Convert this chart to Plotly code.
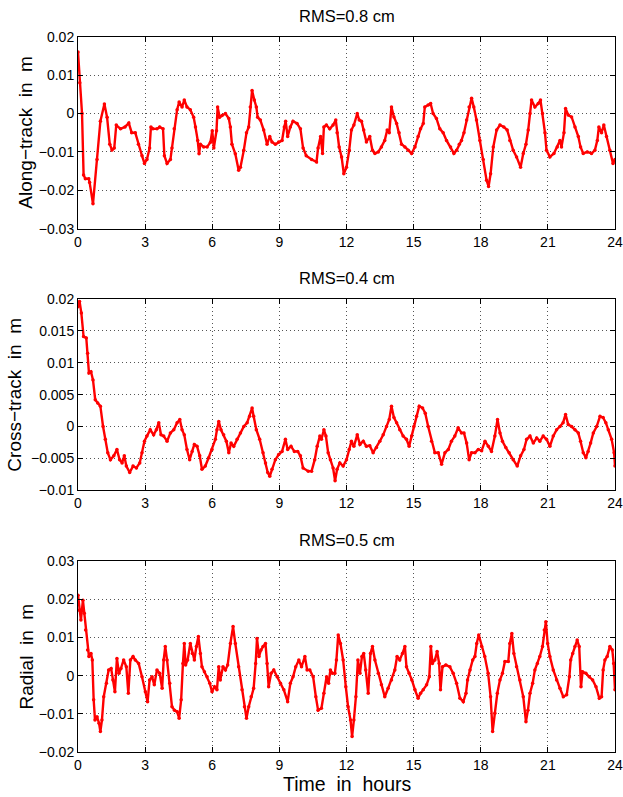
import plotly.graph_objects as go
from plotly.subplots import make_subplots

# time axis ticks (hours)
hour_ticks = [0, 3, 6, 9, 12, 15, 18, 21, 24]

# along-track residuals (m)
along_h = [0, 0.08, 0.18, 0.25, 0.33, 0.48, 0.52, 0.67, 0.85, 1.0,
           1.18, 1.3, 1.42, 1.52, 1.62, 1.71, 1.9, 2.1, 2.27, 2.4,
           2.56, 2.7, 2.86, 2.97, 3.08, 3.2, 3.26, 3.35, 3.53, 3.65,
           3.8, 3.86, 3.98, 4.13, 4.2, 4.3, 4.43, 4.52, 4.65, 4.75,
           4.87, 5.02, 5.17, 5.25, 5.35, 5.41, 5.47, 5.62, 5.77, 5.92,
           6.0, 6.07, 6.19, 6.24, 6.33, 6.44, 6.59, 6.74, 6.81, 6.88,
           7.03, 7.18, 7.26, 7.41, 7.53, 7.63, 7.7, 7.78, 7.88, 7.97,
           8.03, 8.15, 8.3, 8.45, 8.57, 8.67, 8.82, 8.97, 9.12, 9.22,
           9.28, 9.37, 9.49, 9.61, 9.79, 9.94, 10.06, 10.2, 10.44, 10.66,
           10.73, 10.84, 10.93, 10.99, 11.1, 11.25, 11.4, 11.52, 11.58, 11.67,
           11.78, 11.88, 12.0, 12.12, 12.22, 12.33, 12.48, 12.57, 12.67, 12.77,
           12.89, 13.04, 13.16, 13.27, 13.42, 13.56, 13.71, 13.82, 13.91, 14.01,
           14.12, 14.24, 14.35, 14.46, 14.61, 14.76, 14.91, 15.06, 15.2, 15.31,
           15.43, 15.5, 15.65, 15.76, 15.87, 16.02, 16.17, 16.32, 16.47, 16.65,
           16.8, 16.92, 17.04, 17.14, 17.25, 17.37, 17.48, 17.59, 17.69, 17.81,
           17.96, 18.11, 18.26, 18.35, 18.44, 18.56, 18.71, 18.86, 19.03, 19.18,
           19.3, 19.45, 19.6, 19.78, 19.9, 20.02, 20.12, 20.2, 20.27, 20.42,
           20.57, 20.67, 20.76, 20.87, 20.94, 21.09, 21.27, 21.42, 21.54, 21.61,
           21.72, 21.79, 21.91, 22.06, 22.21, 22.36, 22.46, 22.58, 22.76, 22.95,
           23.1, 23.21, 23.28, 23.4, 23.5, 23.62, 23.77, 23.91, 24.0]
along_v = [0.016, 0.008, 0.0, -0.016, -0.017, -0.017, -0.018, -0.0235, -0.012, -0.002,
           0.0025, -0.001, -0.008, -0.0095, -0.009, -0.003, -0.004, -0.0035, -0.0025, -0.005,
           -0.005, -0.008, -0.011, -0.013, -0.012, -0.009, -0.0035, -0.004, -0.004, -0.0035,
           -0.004, -0.011, -0.013, -0.012, -0.009, -0.004, 0.001, 0.003, 0.0017, 0.0035,
           0.0017, 0.001, -0.001, -0.0035, -0.007, -0.0105, -0.008, -0.0087, -0.0087, -0.0075,
           -0.0045, -0.009, -0.0045, 0.0017, -0.001, -0.0005, 0.0, -0.0013, -0.0035, -0.008,
           -0.0105, -0.0148, -0.014, -0.0096, -0.005, -0.0035, 0.0017, 0.006, 0.0035, 0.0017,
           -0.001, -0.0017, -0.0043, -0.008, -0.006, -0.0074, -0.008, -0.0074, -0.007, -0.0035,
           -0.002, -0.006, -0.0035, -0.002, -0.0026, -0.004, -0.009, -0.011, -0.012, -0.0126,
           -0.009, -0.006, -0.0104, -0.0035, -0.003, -0.004, -0.003, -0.0017, -0.005, -0.0087,
           -0.0113, -0.0157, -0.014, -0.0096, -0.0043, -0.003, 0.0, -0.0017, -0.002, -0.0043,
           -0.0074, -0.006, -0.0096, -0.0104, -0.01, -0.0087, -0.007, -0.0043, -0.005, 0.0017,
           -0.0009, -0.0026, -0.005, -0.008, -0.0087, -0.0096, -0.0104, -0.0087, -0.006, -0.004,
           -0.0026, 0.0017, 0.0022, 0.0026, 0.0, -0.0013, -0.004, -0.005, -0.007, -0.0087,
           -0.0104, -0.0096, -0.008, -0.007, -0.005, -0.0017, 0.0017, 0.004, 0.0017, -0.0017,
           -0.007, -0.012, -0.0174, -0.019, -0.0157, -0.0087, -0.0043, -0.003, -0.0035, -0.0043,
           -0.007, -0.0096, -0.0113, -0.014, -0.0104, -0.008, -0.0043, 0.0, 0.0035, 0.0017,
           0.0026, 0.0035, 0.0, -0.005, -0.0096, -0.0113, -0.0104, -0.0087, -0.007, -0.0087,
           -0.005, 0.0013, -0.0004, -0.0009, -0.0035, -0.006, -0.0087, -0.0104, -0.01, -0.0104,
           -0.0096, -0.007, -0.0035, -0.005, -0.003, -0.006, -0.0096, -0.013, -0.012]

# cross-track residuals (m)
cross_h = [0, 0.07, 0.15, 0.25, 0.37, 0.43, 0.49, 0.58, 0.67, 0.77,
           0.88, 1.0, 1.12, 1.22, 1.33, 1.45, 1.6, 1.74, 1.86, 1.97,
           2.07, 2.16, 2.31, 2.46, 2.61, 2.76, 2.86, 2.97, 3.08, 3.23,
           3.38, 3.5, 3.61, 3.71, 3.83, 3.98, 4.13, 4.28, 4.43, 4.55,
           4.65, 4.75, 4.87, 4.99, 5.1, 5.2, 5.32, 5.44, 5.54, 5.69,
           5.84, 5.99, 6.14, 6.21, 6.29, 6.39, 6.51, 6.63, 6.74, 6.84,
           6.96, 7.11, 7.26, 7.41, 7.56, 7.67, 7.78, 7.85, 7.97, 8.12,
           8.27, 8.38, 8.48, 8.57, 8.67, 8.82, 8.97, 9.12, 9.27, 9.37,
           9.52, 9.67, 9.82, 9.94, 10.06, 10.29, 10.44, 10.58, 10.69, 10.81,
           10.88, 10.99, 11.08, 11.18, 11.28, 11.4, 11.49, 11.58, 11.7, 11.85,
           12.0, 12.12, 12.22, 12.33, 12.48, 12.6, 12.75, 12.89, 13.04, 13.19,
           13.34, 13.49, 13.64, 13.79, 13.91, 14.01, 14.12, 14.24, 14.38, 14.53,
           14.68, 14.8, 14.91, 15.01, 15.13, 15.25, 15.4, 15.52, 15.65, 15.8,
           15.95, 16.1, 16.25, 16.4, 16.55, 16.69, 16.84, 16.99, 17.14, 17.25,
           17.37, 17.48, 17.59, 17.74, 17.89, 18.04, 18.19, 18.34, 18.48, 18.63,
           18.75, 18.86, 18.97, 19.12, 19.27, 19.45, 19.63, 19.78, 19.93, 20.05,
           20.2, 20.35, 20.5, 20.64, 20.79, 20.94, 21.09, 21.24, 21.39, 21.54,
           21.68, 21.79, 21.91, 22.06, 22.21, 22.36, 22.46, 22.58, 22.7, 22.8,
           22.91, 23.03, 23.18, 23.33, 23.47, 23.59, 23.7, 23.85, 23.96, 24.0]
cross_v = [0.0188, 0.0196, 0.0178, 0.0141, 0.0139, 0.0115, 0.0084, 0.0086, 0.0073, 0.0042,
           0.0037, 0.0032, 0.0, -0.002, -0.0041, -0.0052, -0.0046, -0.0036, -0.0052, -0.0057,
           -0.0046, -0.0062, -0.0072, -0.0062, -0.0065, -0.0057, -0.0041, -0.0023, -0.0015, -0.0005,
           -0.0013, -0.0005, 0.0006, -0.0013, -0.0015, -0.0023, -0.001, -0.0005, 0.0006, 0.0011,
           -0.0005, -0.0013, -0.0036, -0.0052, -0.0039, -0.0028, -0.0031, -0.0046, -0.0067, -0.0062,
           -0.0049, -0.0036, -0.002, -0.0005, 0.0008, -0.0005, -0.0013, -0.0023, -0.0041, -0.0026,
           -0.0031, -0.002, -0.001, 0.0, 0.0006, 0.0016, 0.0029, 0.0016, -0.0005, -0.002,
           -0.0041, -0.0057, -0.0072, -0.0078, -0.0067, -0.0052, -0.0044, -0.0039, -0.002, -0.0036,
           -0.0031, -0.0039, -0.0039, -0.0046, -0.0065, -0.007, -0.007, -0.0052, -0.0031, -0.0015,
           -0.002, -0.0005, -0.0015, -0.0041, -0.0052, -0.0065, -0.0085, -0.0067, -0.0057, -0.0062,
           -0.0052, -0.0036, -0.0023, -0.0031, -0.0013, -0.0028, -0.0023, -0.0031, -0.003, -0.0041,
           -0.0033, -0.0023, -0.0013, 0.0, 0.0011, 0.0032, 0.0014, 0.0006, -0.0005, -0.0015,
           -0.002, -0.0031, -0.0015, 0.0, 0.0016, 0.0032, 0.0029, 0.0021, 0.0, -0.0023,
           -0.0041, -0.0041, -0.0059, -0.0041, -0.0036, -0.0023, -0.0015, -0.0002, -0.001, -0.001,
           -0.0026, -0.0052, -0.0041, -0.0041, -0.0036, -0.0038, -0.0023, -0.0031, -0.0039, -0.0015,
           0.0011, -0.001, -0.0023, -0.0033, -0.0041, -0.0052, -0.0062, -0.0046, -0.0036, -0.002,
           -0.0015, -0.0026, -0.0018, -0.0023, -0.0015, -0.002, -0.0031, -0.0015, -0.0005, 0.0,
           0.0006, 0.0019, 0.0003, 0.0, -0.0005, -0.001, -0.0023, -0.0041, -0.0049, -0.0039,
           -0.0026, -0.001, 0.0, 0.0016, 0.0014, 0.0006, -0.0005, -0.002, -0.0041, -0.0062]

# radial residuals (m)
radial_h = [0, 0.06, 0.13, 0.22, 0.28, 0.34, 0.43, 0.49, 0.58, 0.64,
            0.7, 0.76, 0.85, 0.94, 1.0, 1.07, 1.15, 1.27, 1.37, 1.48,
            1.56, 1.65, 1.74, 1.83, 1.92, 2.04, 2.16, 2.25, 2.34, 2.46,
            2.56, 2.71, 2.86, 3.01, 3.11, 3.2, 3.31, 3.41, 3.53, 3.65,
            3.76, 3.83, 3.9, 3.98, 4.1, 4.2, 4.31, 4.43, 4.52, 4.61,
            4.69, 4.75, 4.81, 4.9, 5.02, 5.11, 5.2, 5.29, 5.38, 5.47,
            5.54, 5.65, 5.77, 5.89, 5.99, 6.1, 6.21, 6.29, 6.36, 6.48,
            6.59, 6.69, 6.81, 6.93, 7.03, 7.18, 7.33, 7.44, 7.53, 7.63,
            7.74, 7.85, 7.94, 8.0, 8.09, 8.18, 8.27, 8.38, 8.45, 8.52,
            8.63, 8.75, 8.9, 9.05, 9.2, 9.37, 9.49, 9.61, 9.73, 9.87,
            9.99, 10.14, 10.24, 10.36, 10.51, 10.63, 10.73, 10.88, 10.99, 11.11,
            11.2, 11.28, 11.37, 11.48, 11.55, 11.63, 11.73, 11.85, 11.97, 12.07,
            12.18, 12.25, 12.33, 12.42, 12.51, 12.6, 12.69, 12.77, 12.86, 12.97,
            13.07, 13.16, 13.27, 13.42, 13.56, 13.71, 13.86, 14.01, 14.16, 14.26,
            14.38, 14.5, 14.61, 14.68, 14.8, 14.92, 15.06, 15.2, 15.31, 15.43,
            15.58, 15.7, 15.77, 15.84, 15.95, 16.05, 16.14, 16.2, 16.29, 16.44,
            16.62, 16.77, 16.92, 17.07, 17.22, 17.34, 17.41, 17.52, 17.64, 17.74,
            17.82, 17.91, 18.04, 18.18, 18.33, 18.44, 18.53, 18.63, 18.74, 18.86,
            18.97, 19.08, 19.23, 19.3, 19.39, 19.48, 19.6, 19.75, 19.9, 20.02,
            20.11, 20.2, 20.32, 20.42, 20.53, 20.64, 20.76, 20.84, 20.91, 20.99,
            21.09, 21.24, 21.39, 21.54, 21.69, 21.84, 21.96, 22.02, 22.11, 22.21,
            22.31, 22.4, 22.48, 22.55, 22.7, 22.85, 23.0, 23.15, 23.3, 23.4,
            23.47, 23.55, 23.65, 23.77, 23.88, 23.94, 24.0]
radial_v = [0.021, 0.0171, 0.0145, 0.0197, 0.0163, 0.0119, 0.0067, 0.005, 0.0058, 0.0041,
            -0.0063, -0.0116, -0.0107, -0.0124, -0.0146, -0.0116, -0.0055, -0.002, 0.0015, 0.0019,
            -0.0011, -0.0042, 0.0045, 0.0006, 0.0019, 0.0041, 0.0023, -0.0046, 0.0041, 0.005,
            0.0041, 0.0032, -0.0003, -0.0042, -0.0068, -0.0011, -0.0003, -0.0024, 0.0015, 0.0006,
            -0.0033, 0.0041, 0.0076, 0.0041, -0.002, -0.0081, -0.009, -0.0094, -0.0111, -0.0063,
            0.0032, 0.0084, 0.0028, 0.0041, 0.0084, 0.0058, 0.0041, 0.0076, 0.0102, 0.0058,
            0.0023, 0.001, -0.0003, -0.002, -0.0042, -0.0029, -0.0037, 0.0023, -0.0011, 0.0023,
            0.0015, 0.0028, 0.0084, 0.0128, 0.0084, 0.0023, -0.0037, -0.0081, -0.0111, -0.0081,
            -0.0055, -0.0033, 0.0032, 0.0097, 0.005, 0.0067, 0.0076, 0.0084, 0.0032, -0.0029,
            0.0006, 0.0015, -0.0003, -0.002, -0.0037, -0.0068, -0.002, -0.0003, 0.0023, 0.0041,
            0.0023, 0.005, 0.0015, 0.0015, -0.0003, -0.0055, -0.009, -0.0085, -0.0046, -0.0003,
            -0.002, 0.0015, 0.0006, 0.0006, 0.0041, 0.0106, 0.0084, 0.0041, -0.0029, -0.0081,
            -0.0116, -0.0159, -0.0116, -0.0055, 0.0041, 0.0006, 0.005, 0.0058, 0.0015, -0.0046,
            0.0058, 0.0076, 0.0041, 0.0006, -0.0024, -0.0055, -0.0033, -0.0011, 0.0015, 0.005,
            0.0041, 0.0058, 0.0076, 0.0023, 0.0006, -0.0011, -0.0037, -0.0059, -0.0046, -0.0037,
            -0.0024, -0.0003, 0.0076, 0.0032, 0.0041, 0.0063, 0.0032, -0.0037, 0.0023, 0.0028,
            0.0023, 0.0006, -0.002, -0.0059, -0.0068, -0.0046, -0.0011, 0.0015, 0.0041, 0.005,
            0.0084, 0.0106, 0.0076, 0.005, 0.0006, -0.0055, -0.0146, -0.0098, -0.0046, -0.0011,
            0.0006, 0.0037, 0.0037, 0.0084, 0.011, 0.0058, 0.0023, -0.0011, -0.0055, -0.012,
            -0.009, -0.0046, -0.002, 0.0015, 0.0032, 0.005, 0.0076, 0.0119, 0.0141, 0.0084,
            0.005, 0.0015, -0.0011, -0.0033, -0.0055, -0.005, -0.0003, 0.0041, 0.0058, 0.0076,
            0.0093, 0.0076, -0.0029, 0.001, 0.0006, -0.0003, -0.0011, -0.0029, -0.0059, -0.0055,
            0.0015, 0.0041, 0.005, 0.0076, 0.0067, 0.0032, -0.0037]

panels = [
    {"h": along_h, "v": along_v, "title": "RMS=0.8 cm", "ylabel": "Along\u2212track\u00a0 in\u00a0 m",
     "range": [-0.03, 0.02], "ticks": [0.02, 0.01, 0, -0.01, -0.02, -0.03],
     "ticktext": ["0.02", "0.01", "0", "\u22120.01", "\u22120.02", "\u22120.03"], "ylab_x": -52},
    {"h": cross_h, "v": cross_v, "title": "RMS=0.4 cm", "ylabel": "Cross\u2212track\u00a0 in\u00a0 m",
     "range": [-0.01, 0.02], "ticks": [0.02, 0.015, 0.01, 0.005, 0, -0.005, -0.01],
     "ticktext": ["0.02", "0.015", "0.01", "0.005", "0", "\u22120.005", "\u22120.01"], "ylab_x": -63},
    {"h": radial_h, "v": radial_v, "title": "RMS=0.5 cm", "ylabel": "Radial\u00a0 in\u00a0 m",
     "range": [-0.02, 0.03], "ticks": [0.03, 0.02, 0.01, 0, -0.01, -0.02],
     "ticktext": ["0.03", "0.02", "0.01", "0", "\u22120.01", "\u22120.02"], "ylab_x": -52},
]

W, H = 623, 797
# plot boxes in pixels (top, bottom)
boxes = [(36.7, 228.7), (299.0, 490.3), (560.7, 752.3)]

font = "Liberation Sans, Arial, Helvetica, sans-serif"

fig = make_subplots(rows=3, cols=1)

for i, p in enumerate(panels):
    r = i + 1
    fig.add_trace(
        go.Scatter(
            x=p["h"], y=p["v"], mode="lines+markers",
            line={"color": "#ff0000", "width": 2.4},
            marker={"color": "#ff0000", "size": 3.5},
            showlegend=False, hoverinfo="skip",
        ),
        row=r, col=1,
    )
    top, bot = boxes[i]
    axis_common = dict(
        showline=True, linecolor="black", linewidth=1, mirror="ticks",
        ticks="inside", ticklen=5, tickcolor="black", automargin=False,
        showgrid=True, gridcolor="#555555", griddash="1px,3px", gridwidth=1,
        zeroline=False, tickfont={"size": 14, "color": "black", "family": font},
    )
    fig.update_xaxes(
        range=[0, 24], tickvals=hour_ticks, row=r, col=1, **axis_common,
    )
    fig.update_yaxes(
        range=p["range"], tickvals=p["ticks"], ticktext=p["ticktext"],
        domain=[1 - bot / H, 1 - top / H],
        row=r, col=1, **axis_common,
    )
    # panel title
    fig.add_annotation(
        text=p["title"], xref="paper", yref="paper", x=0.5, y=1 - top / H,
        yanchor="middle", yshift=21, showarrow=False,
        font={"size": 16.5, "family": font, "color": "black"},
    )
    # y label
    fig.add_annotation(
        text=p["ylabel"], xref="paper", yref="paper", x=0, y=1 - (top + bot) / 2 / H,
        xanchor="center", yanchor="middle", xshift=p["ylab_x"], textangle=-90,
        showarrow=False, font={"size": 19, "family": font, "color": "black"},
    )

fig.add_annotation(
    text="Time\u00a0 in\u00a0 hours", xref="paper", yref="paper", x=0.5, y=1 - 752.3 / H,
    yanchor="middle", yshift=-32, showarrow=False,
    font={"size": 19.5, "family": font, "color": "black"},
)

fig.update_layout(
    width=W, height=H,
    margin={"l": 78, "r": 8, "t": 0, "b": 0},
    plot_bgcolor="white", paper_bgcolor="white",
    font={"family": font, "color": "black"},
)

fig.write_html(
    "out.html",
    config={"displayModeBar": False},
    post_script="document.body.style.margin='0';",
)
